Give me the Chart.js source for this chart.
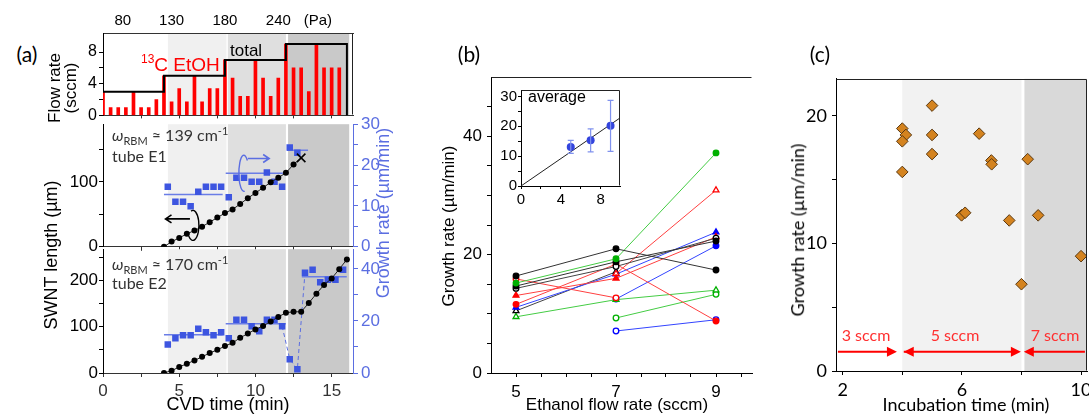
<!DOCTYPE html>
<html>
<head>
<meta charset="utf-8">
<title>SWNT growth rate</title>
<script src="https://cdn.jsdelivr.net/npm/chart.js@4.4.1/dist/chart.umd.min.js"></script>
<style>
  html, body { margin: 0; padding: 0; }
  body { width: 1089px; height: 414px; overflow: hidden; background: #fff; position: relative;
         font-family: 'Liberation Sans', Arial, sans-serif; color: #000; }
  canvas { position: absolute; }
  .t { position: absolute; white-space: nowrap; line-height: 1.1; }
  .t sub, .t sup { line-height: 0; }
</style>
</head>
<body>
<script>
// (a) flow rate, top strip
const flowTimes = [0, 0.5, 1, 1.5, 2, 2.5, 3, 3.5, 4, 4.5, 5, 5.5, 6, 6.5, 7, 7.5,
                   8, 8.5, 9, 9.5, 10, 10.5, 11, 11.5, 12, 12.5, 13, 13.5, 14, 14.5, 15, 15.5];
const etohFlow = [3, 1, 1, 1, 3, 1, 1, 2, 5, 1.7, 3.4, 1.7, 5, 1.7, 3.4, 3.4,
                  7, 4.7, 2.4, 2.4, 7, 4.7, 2.4, 4.7, 9, 6, 6, 3, 9, 6, 6, 6];
const totalTimes = [0, 4, 8, 12, 16, 16];
const totalFlow = [3, 5, 7, 9, 9, 0];
const pressureAt = [1.3, 4.5, 8, 11.5, 14.1];
const pressureLabels = ['80', '130', '180', '240', '(Pa)'];

// (a) tube E1
const e1Time = [4, 4.5, 5, 5.5, 6, 6.5, 7, 7.5, 8, 8.5, 9, 9.5, 10, 10.5, 11, 11.5, 12, 12.5, 13];
const e1Length = [0, 8, 13.6, 20, 25, 31, 38, 45, 52, 57.6, 66, 75, 83, 91, 99.5, 106.5, 114, 127, 137];
const e1RateTime = [4.25, 4.75, 5.25, 5.75, 6.25, 6.75, 7.25, 7.75, 8.25, 8.75, 9.25, 9.75,
                    10.25, 10.75, 11.25, 11.75, 12.25, 12.75];
const e1Rate = [14.7, 11.0, 11.0, 9.9, 13.5, 14.7, 14.7, 14.7, 12.1, 16.9, 16.9, 15.9,
                15.9, 18.2, 15.9, 14.7, 24.3, 23.0];
const e1AvgFrom = [4.0, 8.05, 12.07];
const e1AvgTo = [7.85, 11.8, 13.45];
const e1AvgRate = [12.8, 18.0, 23.6];

// (a) tube E2
const e2Time = [4, 4.5, 5, 5.5, 6, 6.5, 7, 7.5, 8, 8.5, 9, 9.5, 10, 10.5, 11, 11.5,
                12, 12.5, 13, 13.5, 14, 14.5, 15, 15.5, 16];
const e2Length = [0, 5, 13, 20, 27, 35, 43, 50, 58, 65, 76, 85, 94, 101.5, 111, 121,
                  130, 132, 132, 151, 171, 190, 204, 224, 245];
const e2RateTime = [4.25, 4.75, 5.25, 5.75, 6.25, 6.75, 7.25, 7.75, 8.25, 8.75, 9.25, 9.75,
                    10.25, 10.75, 11.25, 11.75, 12.25, 12.75, 13.25, 13.75, 14.25, 14.75, 15.25, 15.75];
const e2Rate = [11.0, 13.4, 14.5, 14.5, 17.0, 15.7, 14.5, 15.7, 13.4, 20.5, 20.5, 18.0,
                16.1, 20.5, 20.5, 18.0, 5.3, 1.4, 38.5, 39.7, 34.9, 35.9, 35.9, 39.7];
const e2AvgFrom = [4.0, 8.05, 13.04];
const e2AvgTo = [7.85, 11.99, 15.99];
const e2AvgRate = [14.7, 18.9, 37.0];

// growth stages (shaded)
const stageFrom = [4.26, 8.19, 12.14];
const stageTo = [8.1, 12.0, 16.15];

// (b) growth rate vs ethanol flow rate
const flowRates = [5, 7, 9];
const rateBlack1 = [16.4, 21.0, 17.4];
const rateGreen1 = [15.2, 19.3, 37.2];
const rateBlack2 = [14.7, 18.8, 22.3];
const rateBlack3 = [14.3, 18.0, 22.8];
const rateRed1 = [15.9, 12.7, null];
const rateRed2 = [11.6, 18.4, 8.8];
const rateRed3 = [13.1, 16.0, 23.0];
const rateRed4 = [null, 16.8, 30.9];
const rateBlue1 = [11.1, 16.7, 23.8];
const rateBlack4 = [10.5, 17.1, null];
const rateGreen2 = [9.5, 12.4, 14.0];
const rateGreen3 = [null, 9.3, 13.3];
const rateBlue2 = [null, 7.1, 9.0];
const rateBlue3 = [null, 12.5, 21.5];

// (b) inset: average
const avgFlow = [5, 7, 9];
const avgRate = [13.1, 15.3, 20.2];
const avgLow = [10.9, 11.4, 11.6];
const avgHigh = [15.3, 19.1, 28.7];
const fitFlow = [0, 10];
const fitRate = [0, 22.9];

// (c) growth rate vs incubation time
const incubTime = [4.0, 4.12, 4.0, 5.0, 5.0, 5.0, 4.0, 6.58, 6.99, 7.0, 8.21, 5.99, 6.11, 7.59, 8.56, 8.0, 10.0];
const incubRate = [19.0, 18.5, 18.0, 20.8, 18.5, 17.0, 15.6, 18.6, 16.5, 16.2, 16.6, 12.2, 12.4, 11.8, 12.2, 6.8, 9.0];
const stageCFrom = [4.0, 8.1];
const stageCTo = [8.0, 10.3];
const sccmFrom = [1.84, 4.05, 10.13];
const sccmTo = [3.82, 7.98, 8.08];
const sccmBoth = [false, true, false];

const SANS = "'Liberation Sans', Arial, sans-serif";
const CAL = "Lato, 'Open Sans', sans-serif";
const BLUE = '#5b6ee1';

function axis(pos, min, max, tickVals, labelVals, o = {}) {
  const col = o.color || '#000';
  return {
    type: 'linear', position: pos, min: min, max: max, offset: false,
    afterBuildTicks: s => { s.ticks = tickVals.map(v => ({ value: v })); },
    ticks: {
      display: o.labels !== false, autoSkip: false, maxRotation: 0, padding: o.pad ?? 2,
      color: col, font: { size: o.size || 16, family: o.family || SANS },
      callback: v => (o.names ? o.names[tickVals.indexOf(v)] : (labelVals.includes(v) ? String(v) : ''))
    },
    grid: { drawOnChartArea: false, drawTicks: o.tick !== 0, tickLength: o.tick ?? 4, color: col, offset: false },
    border: { display: o.border !== false, color: o.borderColor || col, width: 1 }
  };
}

function makeChart(box, pad, config) {
  const w = box.r - box.l + pad.l + pad.r;
  const h = box.b - box.t + pad.t + pad.b;
  const cv = document.createElement('canvas');
  cv.width = w; cv.height = h;
  cv.style.left = (box.l - pad.l) + 'px';
  cv.style.top = (box.t - pad.t) + 'px';
  cv.style.width = w + 'px';
  cv.style.height = h + 'px';
  document.body.appendChild(cv);
  const used = {};
  Object.values(config.options.scales).forEach(s => {
    used[s.position] = true;
    s.afterFit = sc => {
      if (sc.isHorizontal()) sc.height = sc.position === 'top' ? pad.t : pad.b;
      else sc.width = sc.position === 'left' ? pad.l : pad.r;
    };
  });
  Object.assign(config.options, {
    responsive: false, animation: false, devicePixelRatio: 1,
    layout: { padding: {
      left: used.left ? 0 : pad.l, right: used.right ? 0 : pad.r,
      top: used.top ? 0 : pad.t, bottom: used.bottom ? 0 : pad.b } }
  });
  config.options.plugins = Object.assign({ legend: { display: false }, tooltip: { enabled: false } },
    config.options.plugins || {});
  return new Chart(cv, config);
}

// shaded stage bands, drawn under everything
function shade(from, to, colors, xId = 'x') {
  return {
    id: 'shade',
    beforeDraw(chart) {
      const { ctx, chartArea: a } = chart, x = chart.scales[xId];
      ctx.save();
      from.forEach((f, i) => {
        const p0 = Math.max(x.getPixelForValue(f), a.left);
        const p1 = Math.min(x.getPixelForValue(to[i]), a.right);
        ctx.fillStyle = colors[i];
        ctx.fillRect(p0, a.top, p1 - p0, a.bottom - a.top);
      });
      ctx.restore();
    }
  };
}

function frame(sides, color = '#222', fill) {
  return {
    id: 'frame',
    beforeDraw(chart) {
      if (!fill) return;
      const { ctx, chartArea: a } = chart;
      ctx.save(); ctx.fillStyle = fill;
      ctx.fillRect(a.left, a.top, a.right - a.left, a.bottom - a.top);
      ctx.restore();
    },
    afterDraw(chart) {
      const { ctx, chartArea: a } = chart;
      const L = Math.round(a.left) + 0.5, R = Math.round(a.right) - 0.5;
      const T = Math.round(a.top) + 0.5, B = Math.round(a.bottom) - 0.5;
      ctx.save(); ctx.strokeStyle = color; ctx.lineWidth = 1; ctx.beginPath();
      if (sides.includes('top')) { ctx.moveTo(L, T); ctx.lineTo(R, T); }
      if (sides.includes('right')) { ctx.moveTo(R, T); ctx.lineTo(R, B); }
      if (sides.includes('left')) { ctx.moveTo(L, T); ctx.lineTo(L, B); }
      if (sides.includes('bottom')) { ctx.moveTo(L, B); ctx.lineTo(R, B); }
      ctx.stroke(); ctx.restore();
    }
  };
}

function xy(xs, ys) { return xs.map((x, i) => ({ x: x, y: ys[i] })); }

function avgSegments(from, to, rate, color, yId) {
  return from.map((f, i) => ({
    type: 'line', data: [{ x: f, y: rate[i] }, { x: to[i], y: rate[i] }], yAxisID: yId,
    borderColor: color, borderWidth: 1.5, pointRadius: 0, order: 3
  }));
}

function chevron(ctx, x0, y, x1, color) {
  const d = x1 > x0 ? -1 : 1;
  ctx.save(); ctx.strokeStyle = color; ctx.lineWidth = 1.6; ctx.beginPath();
  ctx.moveTo(x0, y); ctx.lineTo(x1, y);
  ctx.moveTo(x1 + d * 6, y - 4); ctx.lineTo(x1, y); ctx.lineTo(x1 + d * 6, y + 4);
  ctx.stroke(); ctx.restore();
}

const stageGrays = ['#f0f0f0', '#dfdfdf', '#c9c9c9'];

// ---------- (a) top: flow rate ----------
makeChart({ l: 103, t: 33, r: 353, b: 123 }, { l: 48, r: 4, t: 22, b: 4 }, {
  type: 'line',
  data: { datasets: [
    { type: 'line', data: xy(totalTimes, totalFlow), stepped: true, borderColor: '#000',
      borderWidth: 2, pointRadius: 0, order: 0 },
    { type: 'bar', data: xy(flowTimes, etohFlow), backgroundColor: '#ff0000', barThickness: 3, order: 1 }
  ] },
  options: { scales: {
    x: axis('bottom', 0, 16.4, [2.5, 5, 7.5, 10, 12.5, 15], [], { labels: false, tick: 3, color: '#333' }),
    xTop: axis('top', 0, 16.4, pressureAt, [], { names: pressureLabels, tick: 0, size: 15, pad: 3, borderColor: '#333' }),
    y: axis('left', 0, 10.4, [0, 2, 4, 6, 8], [0, 4, 8], { size: 16, pad: 2 })
  } },
  plugins: [shade(stageFrom, stageTo, stageGrays), frame(['right'], '#222')]
});

// ---------- (a) middle: tube E1 ----------
const e1Last = e1Time.length - 1;
makeChart({ l: 103, t: 123, r: 353, b: 248 }, { l: 48, r: 30, t: 12, b: 12 }, {
  type: 'line',
  data: { datasets: [
    { data: xy(e1Time, e1Length), yAxisID: 'y', borderColor: '#222', borderWidth: 1,
      pointStyle: c => (c.dataIndex === e1Last ? 'crossRot' : 'circle'),
      pointRadius: c => (c.dataIndex === e1Last ? 6 : 3),
      pointBorderWidth: c => (c.dataIndex === e1Last ? 1.6 : 0),
      pointBackgroundColor: '#000', pointBorderColor: '#000', order: 0 },
    { data: xy(e1RateTime, e1Rate), yAxisID: 'y2', showLine: false, pointStyle: 'rect',
      pointRadius: 4.6, pointBackgroundColor: '#3d55e0', pointBorderWidth: 0, order: 1 },
    ...avgSegments(e1AvgFrom, e1AvgTo, e1AvgRate, '#6a7de6', 'y2')
  ] },
  options: { scales: {
    x: axis('bottom', 0, 16.4, [2.5, 5, 7.5, 10, 12.5, 15], [], { labels: false, color: '#333' }),
    y: axis('left', 0, 189, [0, 50, 100, 150], [0, 100], { size: 17, pad: 1 }),
    y2: axis('right', 0, 30, [0, 5, 10, 15, 20, 25, 30], [0, 10, 20, 30],
             { size: 17, color: BLUE, tick: 5, pad: 3 })
  } },
  plugins: [shade(stageFrom, stageTo, stageGrays), {
    id: 'e1Notes',
    afterDatasetsDraw(chart) {
      const { ctx, scales: { x, y, y2 } } = chart;
      // left-axis marker around the length curve
      const bx = x.getPixelForValue(5.9), by = y.getPixelForValue(33);
      ctx.save(); ctx.strokeStyle = '#000'; ctx.lineWidth = 1.4; ctx.beginPath();
      ctx.ellipse(bx, by, 6, 15, 0, -Math.PI * 0.6, Math.PI * 0.75); ctx.stroke(); ctx.restore();
      chevron(ctx, bx - 3, y.getPixelForValue(43), x.getPixelForValue(4.1), '#000');
      // right-axis marker around the rate points
      const rx = x.getPixelForValue(9.24), ry = y2.getPixelForValue(18.0);
      ctx.save(); ctx.strokeStyle = BLUE; ctx.lineWidth = 1.4; ctx.beginPath();
      ctx.ellipse(rx, ry, 5, 18, 0, Math.PI * 0.45, Math.PI * 1.75); ctx.stroke(); ctx.restore();
      chevron(ctx, rx + 4, y2.getPixelForValue(21.6), x.getPixelForValue(10.9), BLUE);
    }
  }]
});

// ---------- (a) bottom: tube E2 ----------
makeChart({ l: 103, t: 248, r: 353, b: 373 }, { l: 48, r: 30, t: 12, b: 30 }, {
  type: 'line',
  data: { datasets: [
    { data: xy(e2Time, e2Length), yAxisID: 'y', borderColor: '#222', borderWidth: 1,
      pointRadius: 3, pointBackgroundColor: '#000', pointBorderWidth: 0, order: 0 },
    { data: xy(e2RateTime, e2Rate), yAxisID: 'y2', showLine: false, pointStyle: 'rect',
      pointRadius: 4.6, pointBackgroundColor: '#3d55e0', pointBorderWidth: 0, order: 1 },
    { data: xy(e2RateTime.slice(15, 19), e2Rate.slice(15, 19)), yAxisID: 'y2', borderColor: BLUE,
      borderWidth: 1, borderDash: [4, 3], pointRadius: 0, order: 2 },
    ...avgSegments(e2AvgFrom, e2AvgTo, e2AvgRate, '#6a7de6', 'y2')
  ] },
  options: { scales: {
    x: axis('bottom', 0, 16.4, [0, 2.5, 5, 7.5, 10, 12.5, 15], [0, 5, 10, 15],
            { size: 17, pad: 4, color: '#333' }),
    y: axis('left', 0, 267, [0, 50, 100, 150, 200, 250], [0, 100, 200], { size: 17, pad: 1 }),
    y2: axis('right', 0, 47.6, [0, 10, 20, 30, 40], [0, 20, 40], { size: 17, color: BLUE, tick: 5, pad: 3 })
  } },
  plugins: [shade(stageFrom, stageTo, stageGrays)]
});

// ---------- (b) growth rate vs ethanol flow ----------
const bSeries = [
  [rateBlack1, '#000', '#333', 'circle', true],
  [rateGreen1, '#00b000', '#44cc44', 'circle', true],
  [rateBlack2, '#000', '#333', 'circle', true],
  [rateBlack3, '#000', '#444', 'circle', false],
  [rateRed1, '#ff0000', '#ff4040', 'circle', false],
  [rateRed2, '#ff0000', '#ff4040', 'circle', true],
  [rateRed3, '#ff0000', '#ff4040', 'triangle', true],
  [rateRed4, '#ff0000', '#ff4040', 'triangle', false],
  [rateBlue1, '#0000ff', '#3344ff', 'triangle', true],
  [rateBlack4, '#000', '#444', 'triangle', false],
  [rateGreen2, '#00b000', '#44cc44', 'triangle', false],
  [rateGreen3, '#00b000', '#44cc44', 'circle', false],
  [rateBlue2, '#0000ff', '#3344ff', 'circle', false],
  [rateBlue3, '#0000ff', '#3344ff', 'circle', true]
];
makeChart({ l: 491, t: 72, r: 752, b: 373 }, { l: 45, r: 10, t: 10, b: 30 }, {
  type: 'line',
  data: { datasets: bSeries.map(([vals, col, lineCol, style, filled]) => ({
    data: xy(flowRates, vals), borderColor: lineCol, borderWidth: 1, spanGaps: false,
    pointStyle: style, pointRadius: style === 'triangle' ? 3.4 : 2.8, pointBorderColor: col,
    pointBorderWidth: 1.3, pointBackgroundColor: filled ? col : '#fff'
  })) },
  options: { scales: {
    x: axis('bottom', 4.5, 9.72, [5, 5.5, 6, 6.5, 7, 7.5, 8, 8.5, 9, 9.5], [5, 7, 9], { size: 17, pad: 5 }),
    y: axis('left', 0, 50, [0, 5, 10, 15, 20, 25, 30, 35, 40, 45], [0, 20, 40], { size: 17, pad: 5 })
  } },
  plugins: [frame(['top'], '#222')]
});

// ---------- (b) inset: average ----------
makeChart({ l: 521, t: 86, r: 620, b: 186 }, { l: 25, r: 4, t: 6, b: 22 }, {
  type: 'line',
  data: { datasets: [
    { data: xy(avgFlow, avgRate), showLine: false, pointRadius: 4, pointBackgroundColor: '#3344dd',
      pointBorderWidth: 0, order: 0 },
    { data: xy(fitFlow, fitRate), borderColor: '#222', borderWidth: 1, pointRadius: 0, order: 1 }
  ] },
  options: { scales: {
    x: axis('bottom', 0, 9.95, [0, 2, 4, 6, 8], [0, 4, 8], { size: 15, pad: 2, tick: 3 }),
    y: axis('left', 0, 32.15, [0, 5, 10, 15, 20, 25, 30], [0, 10, 20, 30], { size: 15, pad: 1, tick: 3 })
  } },
  plugins: [frame(['top', 'right'], '#222', '#fff'), {
    id: 'errorBars',
    afterDatasetsDraw(chart) {
      const { ctx, scales: { x, y } } = chart;
      ctx.save(); ctx.strokeStyle = '#8092ee'; ctx.lineWidth = 1.2; ctx.beginPath();
      avgFlow.forEach((f, i) => {
        const px = x.getPixelForValue(f), lo = y.getPixelForValue(avgLow[i]), hi = y.getPixelForValue(avgHigh[i]);
        ctx.moveTo(px, lo); ctx.lineTo(px, hi);
        ctx.moveTo(px - 3, lo); ctx.lineTo(px + 3, lo);
        ctx.moveTo(px - 3, hi); ctx.lineTo(px + 3, hi);
      });
      ctx.stroke(); ctx.restore();
    }
  }]
});

// ---------- (c) growth rate vs incubation time ----------
makeChart({ l: 836, t: 73, r: 1087, b: 371 }, { l: 38, r: 15, t: 10, b: 30 }, {
  type: 'scatter',
  data: { datasets: [
    { data: xy(incubTime, incubRate), pointStyle: 'rectRot', pointRadius: 5.8,
      pointBackgroundColor: '#d4831f', pointBorderColor: '#5a3810', pointBorderWidth: 1 }
  ] },
  options: { scales: {
    x: axis('bottom', 1.775, 10.2, [2, 4, 6, 8, 10], [2, 6, 10], { size: 18, family: CAL, pad: 4 }),
    y: axis('left', 0, 22.9, [0, 5, 10, 15, 20], [0, 10, 20], { size: 18, family: CAL, pad: 5 })
  } },
  plugins: [shade(stageCFrom, stageCTo, ['#f2f2f2', '#d9d9d9']), frame(['top', 'right'], '#222'), {
    id: 'sccmArrows',
    beforeDatasetsDraw(chart) {
      const { ctx, scales: { x, y } } = chart;
      const py = y.getPixelForValue(1.5);
      ctx.save(); ctx.strokeStyle = '#ff0000'; ctx.fillStyle = '#ff0000'; ctx.lineWidth = 2;
      const head = (tip, dir) => {
        ctx.beginPath(); ctx.moveTo(tip, py); ctx.lineTo(tip - dir * 10, py - 5);
        ctx.lineTo(tip - dir * 10, py + 5); ctx.closePath(); ctx.fill();
      };
      sccmFrom.forEach((f, i) => {
        const p0 = x.getPixelForValue(f), p1 = x.getPixelForValue(sccmTo[i]), dir = p1 > p0 ? 1 : -1;
        ctx.beginPath(); ctx.moveTo(p0, py); ctx.lineTo(p1 - dir * 6, py); ctx.stroke();
        head(p1, dir);
        if (sccmBoth[i]) head(p0, -dir);
      });
      ctx.restore();
    }
  }]
});

// ---------- text ----------
function addText(html, x, y, style, how) {
  const d = document.createElement('div');
  d.className = 't';
  d.innerHTML = html;
  d.style.cssText += style;
  d.style.left = x + 'px';
  d.style.top = y + 'px';
  if (how === 'rot') d.style.transform = 'translate(-50%,-50%) rotate(-90deg)';
  else if (how === 'left') d.style.transform = 'translate(0,-50%)';
  else d.style.transform = 'translate(-50%,-50%)';
  document.body.appendChild(d);
}
const cal = `font-family:${CAL};`;
addText('(a)', 27, 54, cal + 'font-size:21px;');
addText('(b)', 469, 54, cal + 'font-size:21px;');
addText('(c)', 820, 54, cal + 'font-size:21px;');

addText('Flow rate<br>(sccm)', 63, 88, 'font-size:17px;text-align:center;line-height:16px;', 'rot');
addText('SWNT length (µm)', 52, 255, 'font-size:18px;', 'rot');
addText('Growth rate (µm/min)', 384, 213, `font-size:18px;color:${BLUE};`, 'rot');
addText('CVD time (min)', 228, 405, 'font-size:18px;');
addText('<sup style="font-size:12px">13</sup>C EtOH', 141, 65, 'font-size:19px;color:#ff0000;', 'left');
addText('total', 230, 51, 'font-size:17px;', 'left');
addText('<i>ω</i><sub style="font-size:11px">RBM</sub> ≈ 139 cm<sup style="font-size:11px">-1</sup>', 112, 135, cal + 'font-size:16px;color:#333;', 'left');
addText('tube E1', 112, 156, cal + 'font-size:16px;color:#333;', 'left');
addText('<i>ω</i><sub style="font-size:11px">RBM</sub> ≈ 170 cm<sup style="font-size:11px">-1</sup>', 112, 264, cal + 'font-size:16px;color:#333;', 'left');
addText('tube E2', 112, 283, cal + 'font-size:16px;color:#333;', 'left');

addText('Growth rate (µm/min)', 449, 226, 'font-size:17px;', 'rot');
addText('Ethanol flow rate (sccm)', 617, 405, 'font-size:17px;');
addText('average', 528, 97, 'font-size:16px;', 'left');

addText('Growth rate (µm/min)', 798, 230, cal + 'font-size:18px;', 'rot');
addText('Incubation time (min)', 966, 405, cal + 'font-size:18px;');
addText('3 sccm', 866, 335, cal + 'font-size:16px;color:#ff3030;');
addText('5 sccm', 955, 335, cal + 'font-size:16px;color:#ff3030;');
addText('7 sccm', 1055, 335, cal + 'font-size:16px;color:#ff3030;');
</script>
</body>
</html>
